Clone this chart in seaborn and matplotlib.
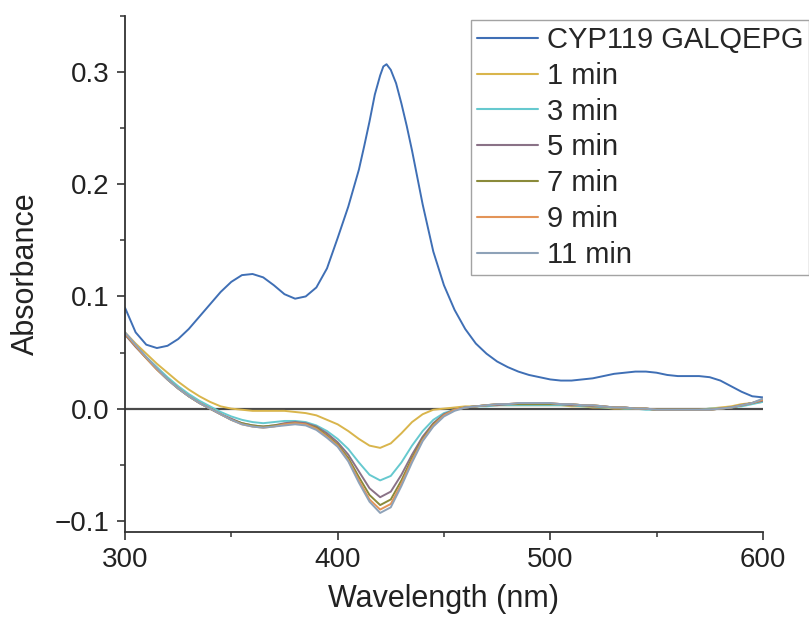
import numpy as np
import pandas as pd
import matplotlib
matplotlib.use("Agg")
import matplotlib.pyplot as plt
from matplotlib.ticker import MultipleLocator, FuncFormatter
import seaborn as sns

# Absolute spectrum of the enzyme
wl_enzyme = [300, 305, 310, 315, 320, 325, 330, 335, 340, 345, 350, 355, 360, 365, 370,
             375, 380, 385, 390, 395, 400, 405, 410, 412.5, 415, 417.5, 420, 421.5, 423,
             425, 427.5, 430, 432.5, 435, 437.5, 440, 445, 450, 455, 460, 465, 470, 475,
             480, 485, 490, 495, 500, 505, 510, 515, 520, 525, 530, 535, 540, 545, 550,
             555, 560, 565, 570, 575, 580, 585, 590, 595, 600]
abs_enzyme = [0.090, 0.068, 0.057, 0.054, 0.056, 0.062, 0.071, 0.082, 0.093, 0.104, 0.113,
              0.119, 0.120, 0.117, 0.110, 0.102, 0.098, 0.100, 0.108, 0.125, 0.152, 0.180,
              0.213, 0.234, 0.256, 0.280, 0.297, 0.305, 0.307, 0.302, 0.290, 0.272, 0.252,
              0.230, 0.206, 0.182, 0.140, 0.110, 0.088, 0.071, 0.058, 0.049, 0.042, 0.037,
              0.033, 0.030, 0.028, 0.026, 0.025, 0.025, 0.026, 0.027, 0.029, 0.031, 0.032,
              0.033, 0.033, 0.032, 0.030, 0.029, 0.029, 0.029, 0.028, 0.025, 0.020, 0.015,
              0.011, 0.010]

# Difference spectra after each incubation time (5 nm steps, 300-600 nm)
wl_diff = list(range(300, 605, 5))
diff_1 = [0.068, 0.058, 0.049, 0.040, 0.032, 0.024, 0.017, 0.011, 0.006, 0.002, 0.000,
          -0.001, -0.002, -0.002, -0.002, -0.002, -0.003, -0.004, -0.006, -0.010, -0.014,
          -0.020, -0.027, -0.033, -0.035, -0.031, -0.022, -0.012, -0.005, -0.001, 0.000,
          0.001, 0.002, 0.002, 0.003, 0.003, 0.003, 0.003, 0.003, 0.003, 0.003, 0.003,
          0.002, 0.002, 0.001, 0.001, 0.000, 0.000, 0.000, 0.000, -0.001, -0.001, -0.001,
          -0.001, -0.001, 0.000, 0.001, 0.002, 0.004, 0.005, 0.006]
diff_3 = [0.066, 0.056, 0.046, 0.037, 0.028, 0.020, 0.013, 0.007, 0.002, -0.003, -0.007,
          -0.010, -0.012, -0.013, -0.012, -0.011, -0.011, -0.012, -0.015, -0.020, -0.027,
          -0.036, -0.048, -0.059, -0.064, -0.060, -0.048, -0.033, -0.020, -0.010, -0.004,
          -0.001, 0.001, 0.002, 0.002, 0.003, 0.003, 0.003, 0.003, 0.003, 0.003, 0.003,
          0.003, 0.002, 0.002, 0.001, 0.001, 0.000, 0.000, -0.001, -0.001, -0.001, -0.001,
          -0.001, -0.001, 0.000, 0.000, 0.001, 0.002, 0.004, 0.006]
diff_5 = [0.066, 0.055, 0.045, 0.035, 0.026, 0.018, 0.011, 0.005, 0.000, -0.005, -0.009,
          -0.013, -0.015, -0.016, -0.015, -0.013, -0.012, -0.013, -0.016, -0.022, -0.030,
          -0.041, -0.056, -0.071, -0.079, -0.074, -0.059, -0.041, -0.025, -0.013, -0.005,
          -0.001, 0.001, 0.002, 0.003, 0.003, 0.004, 0.004, 0.004, 0.004, 0.004, 0.004,
          0.003, 0.003, 0.002, 0.002, 0.001, 0.001, 0.000, 0.000, -0.001, -0.001, -0.001,
          -0.001, -0.001, -0.001, 0.000, 0.001, 0.003, 0.005, 0.007]
diff_7 = [0.067, 0.056, 0.045, 0.035, 0.026, 0.018, 0.011, 0.005, 0.000, -0.005, -0.010,
          -0.013, -0.015, -0.016, -0.015, -0.014, -0.013, -0.014, -0.017, -0.024, -0.032,
          -0.044, -0.061, -0.077, -0.086, -0.081, -0.064, -0.044, -0.027, -0.014, -0.006,
          -0.001, 0.001, 0.002, 0.003, 0.004, 0.004, 0.004, 0.004, 0.004, 0.004, 0.004,
          0.004, 0.003, 0.003, 0.002, 0.001, 0.001, 0.000, 0.000, -0.001, -0.001, -0.001,
          -0.001, -0.001, -0.001, 0.000, 0.001, 0.003, 0.005, 0.008]
diff_9 = [0.067, 0.056, 0.045, 0.035, 0.026, 0.018, 0.011, 0.005, 0.000, -0.005, -0.010,
          -0.014, -0.016, -0.017, -0.016, -0.014, -0.013, -0.014, -0.018, -0.025, -0.033,
          -0.046, -0.064, -0.081, -0.090, -0.085, -0.067, -0.046, -0.028, -0.015, -0.006,
          -0.001, 0.001, 0.002, 0.003, 0.004, 0.004, 0.005, 0.005, 0.005, 0.005, 0.004,
          0.004, 0.003, 0.003, 0.002, 0.001, 0.001, 0.000, 0.000, -0.001, -0.001, -0.001,
          -0.001, -0.001, -0.001, 0.000, 0.001, 0.003, 0.005, 0.008]
diff_11 = [0.068, 0.057, 0.046, 0.036, 0.026, 0.018, 0.011, 0.005, 0.000, -0.005, -0.010,
           -0.014, -0.016, -0.017, -0.016, -0.015, -0.014, -0.015, -0.019, -0.026, -0.034,
           -0.047, -0.066, -0.083, -0.093, -0.088, -0.069, -0.048, -0.029, -0.016, -0.007,
           -0.002, 0.001, 0.002, 0.003, 0.004, 0.004, 0.005, 0.005, 0.005, 0.005, 0.004,
           0.004, 0.003, 0.003, 0.002, 0.001, 0.001, 0.000, 0.000, -0.001, -0.001, -0.001,
           -0.001, -0.001, -0.001, 0.000, 0.001, 0.003, 0.005, 0.009]

series_names = ["CYP119 GALQEPG", "1 min", "3 min", "5 min", "7 min", "9 min", "11 min"]
series_colors = ["#3f6fb5", "#d9b54c", "#66c9cf", "#8a7287", "#8a8a3a", "#e39458", "#8ea2b8"]

frames = [pd.DataFrame({"wavelength": wl_enzyme, "absorbance": abs_enzyme,
                        "sample": series_names[0]})]
for name, vals in zip(series_names[1:], [diff_1, diff_3, diff_5, diff_7, diff_9, diff_11]):
    frames.append(pd.DataFrame({"wavelength": wl_diff, "absorbance": vals, "sample": name}))
df = pd.concat(frames, ignore_index=True)

sns.set_style("ticks")
plt.rcParams["font.family"] = ["Liberation Sans", "DejaVu Sans"]

fig = plt.figure(figsize=(8.09, 6.25), dpi=100)
ax = fig.add_axes([0.1545, 0.1488, 0.7885, 0.8256])

# zero baseline
ax.axhline(0, color="#4a4a4a", lw=1.6, zorder=1)

sns.lineplot(data=df, x="wavelength", y="absorbance", hue="sample",
             hue_order=series_names, palette=dict(zip(series_names, series_colors)),
             estimator=None, sort=False, lw=1.4, ax=ax, zorder=2)

ax.set_xlim(300, 600)
ax.set_ylim(-0.11, 0.35)
ax.xaxis.set_major_locator(MultipleLocator(100))
ax.xaxis.set_minor_locator(MultipleLocator(50))
ax.yaxis.set_major_locator(MultipleLocator(0.1))
ax.yaxis.set_minor_locator(MultipleLocator(0.05))
ax.yaxis.set_major_formatter(FuncFormatter(
    lambda v, p: ("\u2212" if v < -1e-9 else "") + f"{abs(v):.1f}"))

for side in ("top", "right"):
    ax.spines[side].set_visible(False)
for side in ("left", "bottom"):
    ax.spines[side].set_color("#333333")
    ax.spines[side].set_linewidth(1.3)
ax.tick_params(which="major", direction="out", length=6, width=1.2, color="#333333",
               labelsize=20, labelcolor="#222222", pad=5)
ax.tick_params(which="minor", direction="out", length=3.5, width=1.1, color="#333333")

ax.set_xlabel("Wavelength (nm)", fontsize=22, color="#222222", labelpad=8)
ax.set_ylabel("Absorbance", fontsize=22, color="#222222", labelpad=10)

handles, labels = ax.get_legend_handles_labels()
if ax.get_legend() is not None:
    ax.get_legend().remove()
leg = fig.legend(handles, labels, loc="upper left", bbox_to_anchor=(0.582, 0.968),
                 bbox_transform=fig.transFigure, fontsize=21, frameon=True,
                 fancybox=False, borderpad=0.2, labelspacing=0.27, handlelength=2.1,
                 handletextpad=0.3, borderaxespad=0)
leg.get_frame().set_edgecolor("#8c8c8c")
leg.get_frame().set_linewidth(1.0)
for line in leg.get_lines():
    line.set_linewidth(1.5)

fig.savefig("out.png", dpi=100)
